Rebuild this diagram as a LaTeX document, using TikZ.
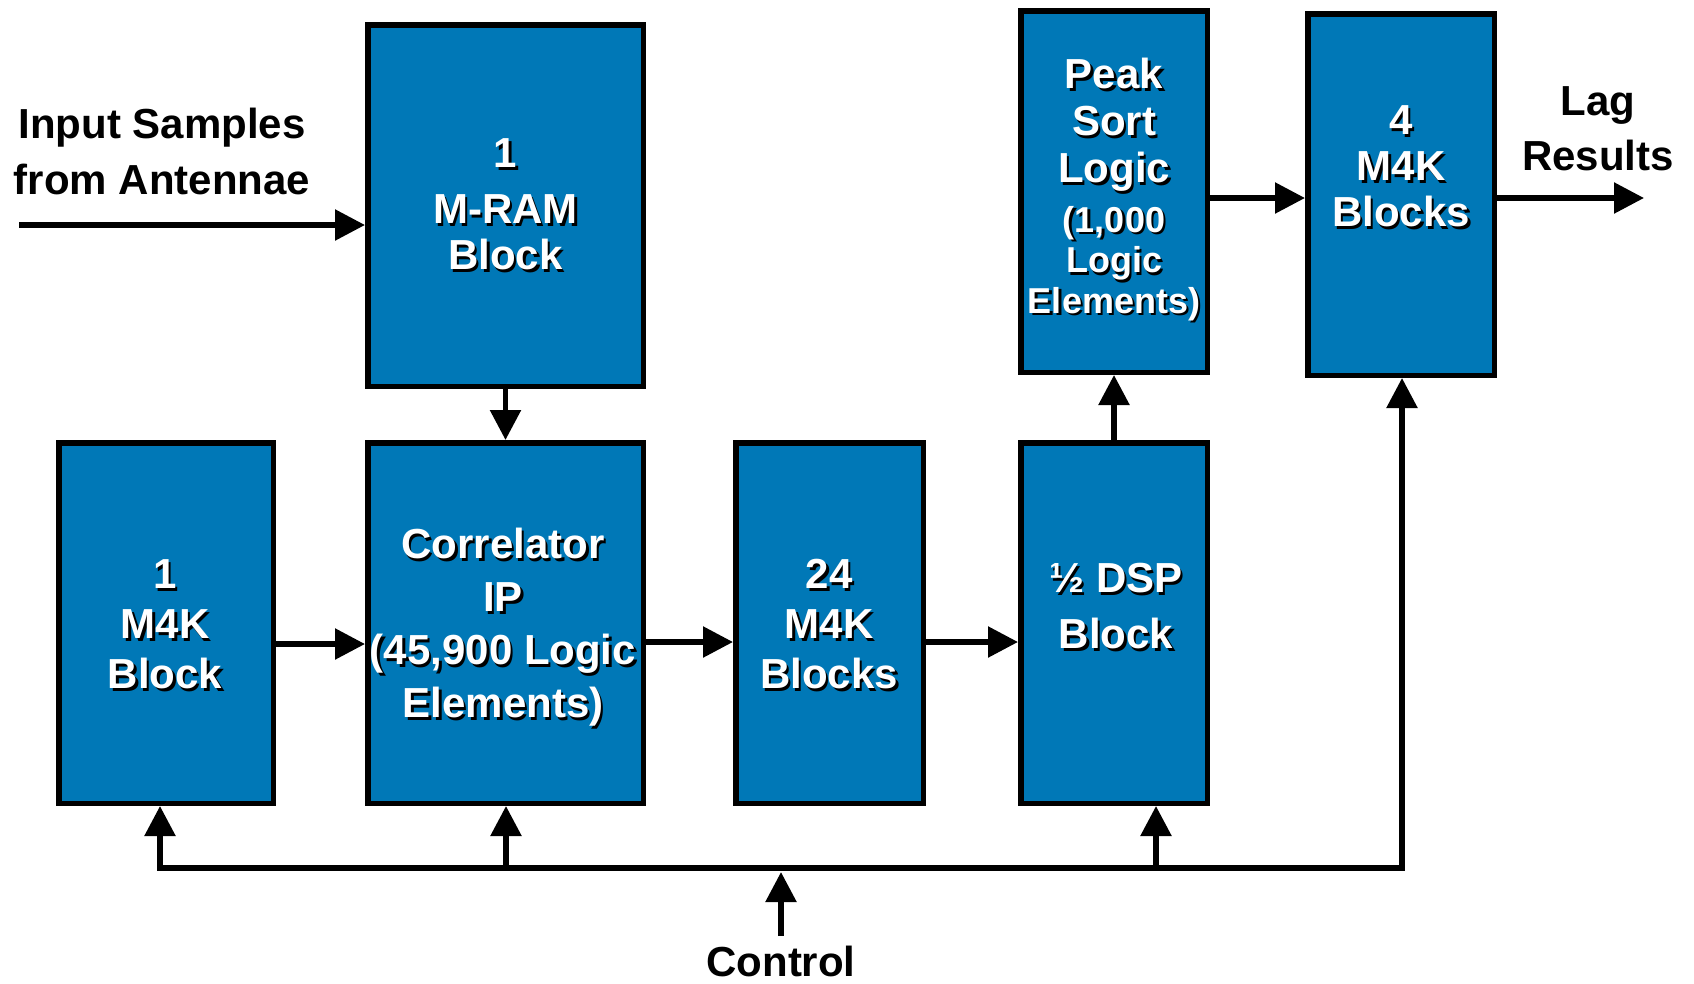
\documentclass[tikz,border=0pt]{standalone}
\usepackage{fontspec}
\setmainfont{Liberation Sans}
\usetikzlibrary{arrows.meta,calc}
\definecolor{boxblue}{RGB}{0,120,183}
\newcommand\shtab[1]{\begin{tabular}{@{}c@{}}#1\end{tabular}}
\newcommand\shad[1]{\makebox[0pt][l]{\hspace{2.5pt}\raisebox{-2.5pt}{\color{black}\shtab{#1}}}\shtab{#1}}
\begin{document}
\begin{tikzpicture}[x=1pt,y=-1pt,
  blk/.style={rectangle, draw=black, line width=5.5pt, fill=boxblue, inner sep=0pt, outer sep=2.75pt},
  wtxt/.style={text=white, inner sep=0pt},
  btxt/.style={text=black, inner sep=0pt},
  tip/.tip={Triangle[length=30pt,width=30pt]},
  arr/.style={line width=5.5pt, -tip},
  arrb/.style={line width=5.5pt, tip-tip, line join=miter}]
\useasboundingbox (0,0) rectangle (1694,983);

% blocks
\node[blk, minimum width=275.5pt, minimum height=361.5pt] (mram) at (505.5,205.5) {};
\node[blk, minimum width=214.5pt, minimum height=360.5pt] (m4kA) at (166,623) {};
\node[blk, minimum width=275.5pt, minimum height=360.5pt] (corr) at (505.5,623) {};
\node[blk, minimum width=187.5pt, minimum height=360.5pt] (m4kB) at (829.5,623) {};
\node[blk, minimum width=186.5pt, minimum height=360.5pt] (dsp) at (1114,623) {};
\node[blk, minimum width=186.5pt, minimum height=361.5pt] (peak) at (1114,191.5) {};
\node[blk, minimum width=186.5pt, minimum height=361.5pt] (m4kC) at (1401,194.5) {};

% white texts with shadow
\node[wtxt, font=\bfseries\fontsize{42}{46}\selectfont] (tmram) at (505.5,211) {\shad{1\\[10pt]M-RAM\\Block}};
\node[wtxt, font=\bfseries\fontsize{42}{53}\selectfont] (tcorr) at (503,629) {\shad{Correlator\\IP\\(45,900 Logic\\Elements)}};
\node[wtxt, font=\bfseries\fontsize{42}{50}\selectfont] (tm4kA) at (165,630) {\shad{1\\M4K\\Block}};
\node[wtxt, font=\bfseries\fontsize{42}{50}\selectfont] (tm4kB) at (829,630) {\shad{24\\M4K\\Blocks}};
\node[wtxt, font=\bfseries\fontsize{42}{56}\selectfont] (tdsp) at (1116,611) {\shad{½ DSP\\Block}};
\node[wtxt, font=\bfseries\fontsize{42}{47}\selectfont] (tpeak) at (1114,193) {\shad{Peak\\Sort\\Logic\\[2.6pt]\fontsize{36}{40}\selectfont (1,000\\[-6.5pt]\fontsize{36}{40}\selectfont Logic\\[-6.5pt]\fontsize{36}{40}\selectfont Elements)}};
\node[wtxt, font=\bfseries\fontsize{42}{46}\selectfont] (tm4kC) at (1401,173) {\shad{4\\M4K\\Blocks}};

% black texts
\node[btxt, font=\bfseries\fontsize{42}{56}\selectfont] (tin) at (162,155) {\shtab{Input Samples\\from Antennae}};
\node[btxt, font=\bfseries\fontsize{42}{55}\selectfont] (tlag) at (1598,132) {\shtab{Lag\\Results}};
\node[btxt, font=\bfseries\fontsize{42}{50}\selectfont, anchor=base] (tctl) at (781,976) {Control};

% coordinates
\coordinate (inS) at (19,225);
\coordinate (out) at (1644,198);
\coordinate (b1) at (160,868);
\coordinate (b2) at (506,868);
\coordinate (b3) at (1156,868);
\coordinate (b4) at (1402,868);
\coordinate (c0) at (781,936);
\coordinate (c1) at (781,872);

% connectors
\draw[arr] (inS) -- (mram.west |- inS);
\draw[arr] (mram.south) -- (corr.north);
\draw[arr] ([yshift=-21pt]m4kA.east) -- ([yshift=-21pt]corr.west);
\draw[arr] ([yshift=-19pt]corr.east) -- ([yshift=-19pt]corr.east -| m4kB.west);
\draw[arr] ([yshift=-19pt]m4kB.east) -- ([yshift=-19pt]m4kB.east -| dsp.west);
\draw[arr] (dsp.north) -- (peak.south);
\draw[arr] ([yshift=-6.5pt]peak.east) -- ([yshift=-6.5pt]peak.east -| m4kC.west);
\draw[arr] (m4kC.east |- out) -- (out);
\draw[arrb] (b1 |- m4kA.south) -- (b1) -- (b4) -- (b4 |- m4kC.south);
\draw[arr] (b2) -- (b2 |- corr.south);
\draw[arr] (b3) -- (b3 |- dsp.south);
\draw[arr] (c0) -- (c1);
\end{tikzpicture}
\end{document}
